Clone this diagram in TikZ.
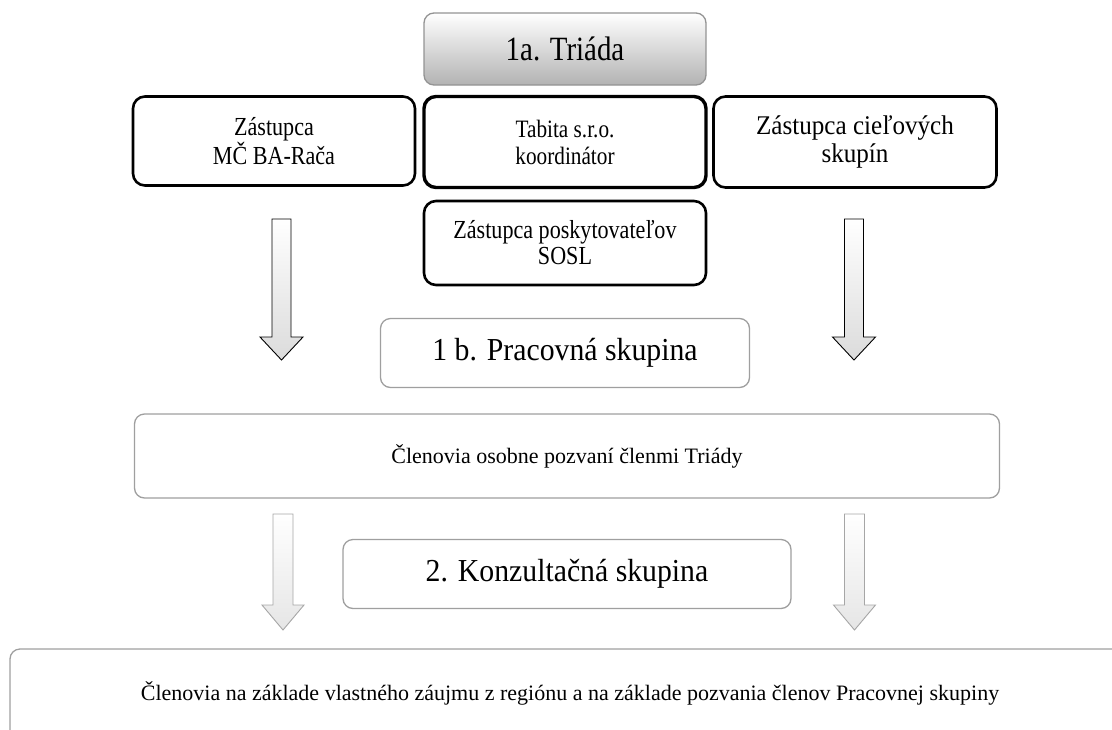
\documentclass[tikz,border=0pt]{standalone}
\usepackage{fontspec}
\setmainfont{Liberation Serif}
\newfontfamily\narrowfont[FakeStretch=0.85]{Liberation Serif}
\newfontfamily\semifont[FakeStretch=0.93]{Liberation Serif}
\begin{document}
\begin{tikzpicture}[x=1pt,y=-1pt,
  topbox/.style={draw=black, line width=2.6pt, rounded corners=12pt, align=center, inner sep=0pt, fill=white, font=\narrowfont\fontsize{26}{26}\selectfont},
  softbox/.style={draw=gray!75, line width=1.3pt, rounded corners=10pt, align=center, inner sep=0pt, fill=white},
  blockarrow/.style={draw=black, line width=0.9pt, top color=white, bottom color=gray!28},
  lightarrow/.style={draw=gray!70, line width=0.9pt, top color=white, bottom color=gray!20}]
\useasboundingbox (0,0) rectangle (1112,729);
\clip (0,0) rectangle (1112,729);

% 1a Triada
\node[softbox, draw=gray!85, top color=white, bottom color=gray!60, minimum width=282pt, minimum height=72pt,
      font=\narrowfont\fontsize{34}{36}\selectfont] (triada) at (565,49) {1a. Triáda};

% top row
\node[topbox, minimum width=282pt, minimum height=89pt] (mc) at (274,141) {Zástupca\\MČ BA-Rača};
\node[topbox, line width=3.4pt, minimum width=282pt, minimum height=91pt, font=\narrowfont\fontsize{25}{27}\selectfont] (tabita) at (565,142) {Tabita s.r.o.\\koordinátor};
\node[topbox, minimum width=283pt, minimum height=91pt, font=\semifont\fontsize{27}{28}\selectfont] (ciel) at (855,142) {Zástupca cieľových\\skupín};
\node[topbox, minimum width=282pt, minimum height=84pt] (posk) at (565,243) {Zástupca poskytovateľov\\SOSL};

% 1b
\node[softbox, minimum width=369pt, minimum height=69pt,
      font=\semifont\fontsize{32}{34}\selectfont] (pracovna) at (565,353) {1 b. Pracovná skupina};

% Clenovia 1
\node[softbox, minimum width=865pt, minimum height=84pt, font=\fontsize{22}{24}\selectfont] (clen1) at (567,456) {Členovia osobne pozvaní členmi Triády};

% Konzultacna
\node[softbox, minimum width=448pt, minimum height=69pt,
      font=\semifont\fontsize{32}{34}\selectfont] (konz) at (567,574) {2. Konzultačná skupina};

% bottom box
\node[softbox, minimum width=1120pt, minimum height=140pt] (clen2) at (570,719) {};
\node[font=\fontsize{22}{24}\selectfont, inner sep=0pt] (clen2text) at (570,693) {Členovia na základe vlastného záujmu z regiónu a na základe pozvania členov Pracovnej skupiny};

% block arrows, row 1
\draw[blockarrow] (272,219) -- (291,219) -- (291,337) -- (303,337) -- (281.5,360) -- (260,337) -- (272,337) -- cycle;
\draw[blockarrow] (844.5,219) -- (863.5,219) -- (863.5,337) -- (875.5,337) -- (854,360) -- (832.5,337) -- (844.5,337) -- cycle;

% block arrows, row 2
\draw[lightarrow] (273,514) -- (293,514) -- (293,605) -- (304,605) -- (283,630) -- (262,605) -- (273,605) -- cycle;
\draw[lightarrow] (844.5,514) -- (864.5,514) -- (864.5,605) -- (875.5,605) -- (854.5,630) -- (833.5,605) -- (844.5,605) -- cycle;
\end{tikzpicture}
\end{document}
